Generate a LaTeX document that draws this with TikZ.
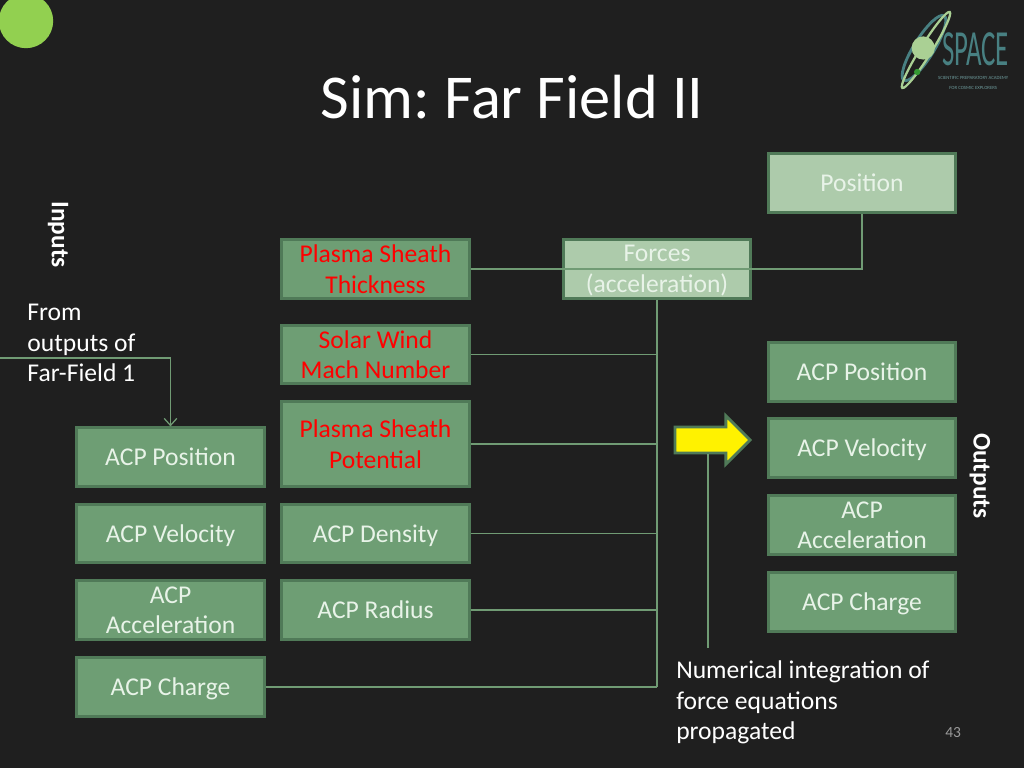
\documentclass[tikz,border=0pt]{standalone}
\usepackage{fontspec}
\setmainfont{Carlito}
\frenchspacing
\usetikzlibrary{shapes, shapes.arrows, arrows.meta, positioning, calc}
\definecolor{slateBg}{RGB}{31, 31, 31}
\definecolor{sageFill}{RGB}{110, 158, 116}
\definecolor{sageEdge}{RGB}{80, 122, 88}
\definecolor{sagePale}{RGB}{173, 203, 171}
\definecolor{sageLine}{RGB}{112, 155, 116}
\definecolor{labelPale}{RGB}{232, 243, 232}
\definecolor{limeDot}{RGB}{146, 208, 80}
\definecolor{logoTeal}{RGB}{72, 128, 130}
\definecolor{logoLeaf}{RGB}{170, 208, 148}
\tikzset{
    simbox/.style={draw=sageEdge, line width=2pt, fill=sageFill, text=labelPale, align=center, text depth=0pt,
        minimum width=4.68cm, minimum height=1.46cm, inner sep=0pt, font=\fontsize{18.2}{21.7}\selectfont},
    palebox/.style={simbox, fill=sagePale},
    redbox/.style={simbox, text=red},
    plain/.style={text=white, align=left, inner sep=0pt, font=\fontsize{18.2}{21.7}\selectfont},
    wire/.style={draw=sageLine, line width=0.9pt}
}
\begin{document}
\begin{tikzpicture}
    \fill[slateBg] (0, 0) rectangle (25.6, 19.2);
    \useasboundingbox (0, 0) rectangle (25.6, 19.2);

    % Title and corner dot
    \fill[limeDot] (0.65, 18.675) circle (0.68);
    \node[text=white, inner sep=0pt, font=\fontsize{44.4}{50}\selectfont] (title) at (12.8, 16.78) {Sim: Far Field II};

    % Logo
    \draw[logoTeal, line width=2pt, rotate around={58:(23.1, 18)}] (23.1, 18) ellipse (0.95 and 0.25);
    \draw[logoLeaf, line width=1.6pt, rotate around={58:(23.15, 17.95)}] (23.15, 17.95) ellipse (1.12 and 0.14);
    \fill[logoLeaf] (23.08, 18) circle (0.29);
    \fill[green!50!black!80!white] (22.93, 17.4) circle (0.08);
    \node[text=logoTeal, inner sep=0pt, xscale=0.53, font=\fontsize{36}{36}\selectfont] (logoName) at (24.39, 17.98) {SPACE};
    \node[text=logoTeal!80!white, inner sep=0pt, font=\fontsize{3.4}{4}\selectfont] (logoLineA) at (24.33, 17.25) {SCIENTIFIC PREPARATORY ACADEMY};
    \node[text=logoTeal!80!white, inner sep=0pt, font=\fontsize{3.4}{4}\selectfont] (logoLineB) at (24.33, 17.0) {FOR COSMIC EXPLORERS};

    % Inputs column
    \node[simbox] (inPos) at (4.2625, 7.775) {ACP Position};
    \node[simbox] (inVel) at (4.2625, 5.86) {ACP Velocity};
    \node[simbox] (inAcc) at (4.2625, 3.95) {ACP\\Acceleration};
    \node[simbox] (inChg) at (4.2625, 2.025) {ACP Charge};

    % Plasma column
    \node[redbox] (sheath) at (9.3875, 12.475) {Plasma Sheath\\Thickness};
    \node[redbox] (mach) at (9.3875, 10.34) {Solar Wind\\Mach Number};
    \node[redbox, minimum height=2.11cm] (potential) at (9.3875, 8.1) {Plasma Sheath\\Potential};
    \node[simbox] (density) at (9.3875, 5.86) {ACP Density};
    \node[simbox] (radius) at (9.3875, 3.95) {ACP Radius};

    % Forces and position
    \node[palebox] (forces) at (16.425, 12.475) {Forces\\(acceleration)};
    \node[palebox] (position) at (21.55, 14.625) {Position};

    % Outputs column
    \node[simbox] (outPos) at (21.55, 9.9) {ACP Position};
    \node[simbox] (outVel) at (21.55, 8.0) {ACP Velocity};
    \node[simbox] (outAcc) at (21.55, 6.075) {ACP\\Acceleration};
    \node[simbox] (outChg) at (21.55, 4.15) {ACP Charge};

    % Side labels
    \node[plain, rotate=-90, font=\bfseries\fontsize{18}{20}\selectfont] (inputs) at (1.45, 13.33) {Inputs};
    \node[plain, rotate=-90, font=\bfseries\fontsize{18}{20}\selectfont] (outputs) at (24.5, 7.3) {Outputs};
    \node[plain, anchor=north west] (fromNote) at (0.68, 11.6) {From\\outputs of\\Far-Field 1};
    \node[plain, anchor=north west] (intNote) at (16.9, 2.68) {Numerical integration of\\force equations\\propagated};
    \node[text=white!60!black, inner sep=0pt, font=\fontsize{11}{13}\selectfont] (pageNo) at (23.83, 0.88) {43};

    % Yellow arrow
    \node[single arrow, draw=sageEdge, line width=2pt, fill=yellow, inner xsep=0pt, inner ysep=0.29cm,
        minimum height=1.88cm, single arrow head extend=0.28cm,
        single arrow tip angle=90] (integ) at (17.65, 8.2) {};

    % Connectors
    \coordinate (feed) at (0, 10.25);
    \coordinate (noteTop) at (17.7, 3.0);
    \coordinate (busEnd) at (16.425, 2.025);
    \draw[wire, -{Straight Barb[length=5pt, width=9pt]}] (feed) -| (inPos.north);
    \draw[wire] (sheath.east) -- (forces.west);
    \draw[wire] (forces.west) -- (forces.east) -| (position.south);
    \draw[wire, line width=1.2pt] (forces.south) -- (busEnd);
    \draw[wire] (mach.east) -- (mach.east -| forces.south);
    \draw[wire] (potential.east) -- (potential.east -| forces.south);
    \draw[wire] (density.east) -- (density.east -| forces.south);
    \draw[wire] (radius.east) -- (radius.east -| forces.south);
    \draw[wire] (inChg.east) -- (busEnd);
    \draw[wire] (noteTop) -- (noteTop |- integ.before tail);
\end{tikzpicture}
\end{document}
